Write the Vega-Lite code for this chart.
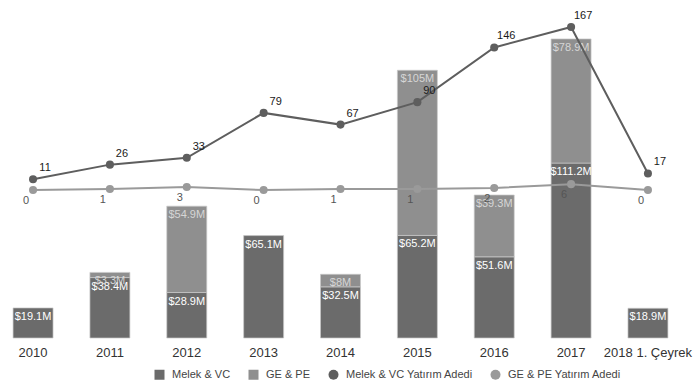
{
  "$schema": "https://vega.github.io/schema/vega-lite/v6.json",
  "width": 681,
  "height": 328,
  "autosize": {"type": "none"},
  "padding": {"top": 10, "left": 0, "right": 15, "bottom": 47},
  "background": "white",
  "config": {
    "view": {"stroke": null},
    "font": "Liberation Sans",
    "axis": {"grid": false}
  },
  "datasets": {
    "bars": [
      {"year": "2010", "s": "Melek & VC", "v": 19.1, "label": "$19.1M"},
      {"year": "2011", "s": "Melek & VC", "v": 38.4, "label": "$38.4M"},
      {"year": "2011", "s": "GE & PE", "v": 3.3, "label": "$3.3M"},
      {"year": "2012", "s": "Melek & VC", "v": 28.9, "label": "$28.9M"},
      {"year": "2012", "s": "GE & PE", "v": 54.9, "label": "$54.9M"},
      {"year": "2013", "s": "Melek & VC", "v": 65.1, "label": "$65.1M"},
      {"year": "2014", "s": "Melek & VC", "v": 32.5, "label": "$32.5M"},
      {"year": "2014", "s": "GE & PE", "v": 8, "label": "$8M"},
      {"year": "2015", "s": "Melek & VC", "v": 65.2, "label": "$65.2M"},
      {"year": "2015", "s": "GE & PE", "v": 105, "label": "$105M"},
      {"year": "2016", "s": "Melek & VC", "v": 51.6, "label": "$51.6M"},
      {"year": "2016", "s": "GE & PE", "v": 39.3, "label": "$39.3M"},
      {"year": "2017", "s": "Melek & VC", "v": 111.2, "label": "$111.2M"},
      {"year": "2017", "s": "GE & PE", "v": 78.9, "label": "$78.9M"},
      {"year": "2018 1. Çeyrek", "s": "Melek & VC", "v": 18.9, "label": "$18.9M"}
    ],
    "lines": [
      {"year": "2010", "s": "Melek & VC Yatırım Adedi", "n": 11},
      {"year": "2011", "s": "Melek & VC Yatırım Adedi", "n": 26},
      {"year": "2012", "s": "Melek & VC Yatırım Adedi", "n": 33},
      {"year": "2013", "s": "Melek & VC Yatırım Adedi", "n": 79},
      {"year": "2014", "s": "Melek & VC Yatırım Adedi", "n": 67},
      {"year": "2015", "s": "Melek & VC Yatırım Adedi", "n": 90},
      {"year": "2016", "s": "Melek & VC Yatırım Adedi", "n": 146},
      {"year": "2017", "s": "Melek & VC Yatırım Adedi", "n": 167},
      {"year": "2018 1. Çeyrek", "s": "Melek & VC Yatırım Adedi", "n": 17},
      {"year": "2010", "s": "GE & PE Yatırım Adedi", "n": 0},
      {"year": "2011", "s": "GE & PE Yatırım Adedi", "n": 1},
      {"year": "2012", "s": "GE & PE Yatırım Adedi", "n": 3},
      {"year": "2013", "s": "GE & PE Yatırım Adedi", "n": 0},
      {"year": "2014", "s": "GE & PE Yatırım Adedi", "n": 1},
      {"year": "2015", "s": "GE & PE Yatırım Adedi", "n": 1},
      {"year": "2016", "s": "GE & PE Yatırım Adedi", "n": 2},
      {"year": "2017", "s": "GE & PE Yatırım Adedi", "n": 6},
      {"year": "2018 1. Çeyrek", "s": "GE & PE Yatırım Adedi", "n": 0}
    ]
  },
  "encoding": {
    "x": {
      "field": "year",
      "type": "nominal",
      "sort": null,
      "scale": {"paddingInner": 0.48, "paddingOuter": 0.17},
      "axis": {
        "title": null,
        "labelAngle": 0,
        "domain": false,
        "ticks": false,
        "labelPadding": 8,
        "labelFontSize": 13,
        "labelColor": "#333333",
        "labelFont": "Liberation Sans"
      }
    }
  },
  "layer": [
    {
      "data": {"name": "bars"},
      "encoding": {
        "y": {
          "field": "v",
          "type": "quantitative",
          "stack": "zero",
          "scale": {"domain": [0, 208.5], "nice": false, "zero": true},
          "axis": null
        },
        "order": {"field": "s", "sort": "descending"}
      },
      "layer": [
        {
          "mark": {"type": "bar", "stroke": "#c8c8c8", "strokeWidth": 0.7},
          "encoding": {
            "color": {
              "field": "s",
              "type": "nominal",
              "scale": {
                "domain": ["Melek & VC", "GE & PE", "Melek & VC Yatırım Adedi", "GE & PE Yatırım Adedi"],
                "range": ["#6b6b6b", "#8f8f8f", "#5e5e5e", "#9a9a9a"]
              },
              "legend": {
                "orient": "none",
                "legendX": 154,
                "legendY": 359,
                "direction": "horizontal",
                "title": null,
                "labelFontSize": 11,
                "labelColor": "#444444",
                "symbolSize": 100,
                "symbolStrokeWidth": 0,
                "columnPadding": 17,
                "labelOffset": 7
              }
            }
          }
        },
        {
          "mark": {"type": "text", "baseline": "middle", "dy": 9, "fontSize": 11},
          "encoding": {
            "text": {"field": "label"},
            "color": {
              "condition": {"test": "datum.s == 'GE & PE'", "value": "#d6d6d6"},
              "value": "#ffffff"
            }
          }
        }
      ]
    },
    {
      "data": {"name": "lines"},
      "encoding": {
        "y": {
          "field": "n",
          "type": "quantitative",
          "scale": {"domain": [-151.6, 184.4], "nice": false, "zero": false},
          "axis": null
        }
      },
      "layer": [
        {
          "mark": {"type": "line", "strokeWidth": 2},
          "encoding": {
            "color": {"field": "s", "type": "nominal"},
            "detail": {"field": "s"}
          }
        },
        {
          "mark": {"type": "point", "filled": true, "opacity": 1, "size": 65},
          "encoding": {
            "color": {"field": "s", "type": "nominal"},
            "shape": {
              "field": "s",
              "type": "nominal",
              "scale": {
                "domain": ["Melek & VC", "GE & PE", "Melek & VC Yatırım Adedi", "GE & PE Yatırım Adedi"],
                "range": ["square", "square", "circle", "circle"]
              }
            }
          }
        },
        {
          "transform": [{"filter": "datum.s == 'Melek & VC Yatırım Adedi'"}],
          "mark": {"type": "text", "dx": 12, "dy": -11, "fontSize": 11, "fill": "#1a1a1a"},
          "encoding": {"text": {"field": "n"}}
        },
        {
          "transform": [{"filter": "datum.s == 'GE & PE Yatırım Adedi'"}],
          "mark": {"type": "text", "dx": -7, "dy": 11, "fontSize": 11, "fill": "#555555"},
          "encoding": {"text": {"field": "n"}}
        }
      ]
    }
  ],
  "resolve": {"scale": {"y": "independent"}}
}
